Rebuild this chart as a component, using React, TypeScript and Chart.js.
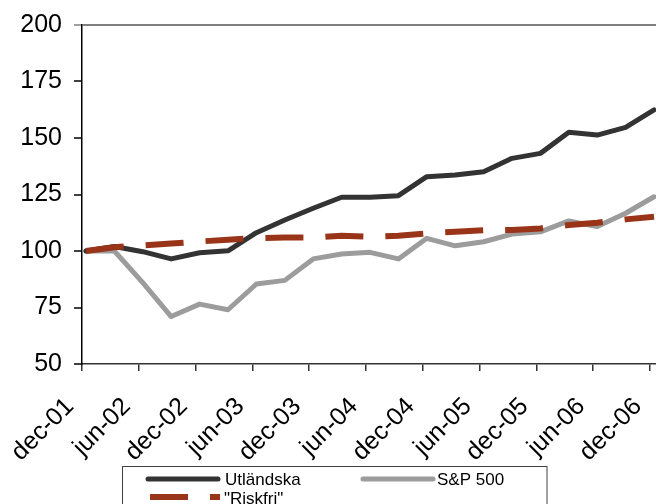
import React, { useEffect, useRef } from "react";
import { Chart, registerables } from "chart.js";

Chart.register(...registerables);

// Quarterly observations (dec-01 .. dec-06)
const quarters = [
  "dec-01", "mar-02", "jun-02", "sep-02", "dec-02", "mar-03", "jun-03",
  "sep-03", "dec-03", "mar-04", "jun-04", "sep-04", "dec-04", "mar-05",
  "jun-05", "sep-05", "dec-05", "mar-06", "jun-06", "sep-06", "dec-06",
];
const tickLabels = [
  "dec-01", "jun-02", "dec-02", "jun-03", "dec-03", "jun-04",
  "dec-04", "jun-05", "dec-05", "jun-06", "dec-06",
];
const utlandska = [
  100, 102, 99.7, 96.5, 99.2, 100.1, 108.1, 113.7, 118.9, 123.8, 123.8,
  124.5, 132.9, 133.6, 135.1, 141, 143.2, 152.5, 151.3, 154.7, 162.4,
];
const sp500 = [
  100, 100, 86, 71, 76.5, 74, 85.4, 87, 96.5, 98.7, 99.4,
  96.5, 105.6, 102.3, 104.1, 107.5, 108.5, 113.3, 110.8, 116.7, 124,
];
const riskfri = [
  100, 101.7, 102.5, 103.3, 104.2, 105, 105.7, 106, 106, 106.8, 106.3,
  106.8, 107.8, 108.5, 109.2, 109.3, 110, 111.5, 112.5, 114, 115.2,
];
const seriesNames = ["Utländska", "S&P 500", "\"Riskfri\""];
const seriesColors = ["#333333", "#9c9c9c", "#9a3418"];
const yTicks = [50, 75, 100, 125, 150, 175, 200];

const FONT = "'Liberation Sans', Arial, sans-serif";
const X_SHIFT = 0.14; // observations sit slightly right of the month tick

const boxLegend = {
  id: "boxLegend",
  afterDraw(chart: any) {
    const ctx = chart.ctx as CanvasRenderingContext2D;
    ctx.save();
    ctx.strokeStyle = "#404040";
    ctx.lineWidth = 1;
    ctx.strokeRect(122.5, 466.5, 424.5, 60);
    const items = [
      { i: 0, x: 148, y: 479, tx: 225, ty: 485 },
      { i: 1, x: 363, y: 479, tx: 437, ty: 485 },
      { i: 2, x: 150, y: 497, tx: 224, ty: 504 },
    ];
    ctx.font = `17px ${FONT}`;
    ctx.textBaseline = "alphabetic";
    ctx.textAlign = "left";
    for (const it of items) {
      const ds = chart.data.datasets[it.i];
      ctx.beginPath();
      ctx.strokeStyle = ds.borderColor;
      ctx.lineWidth = ds.borderWidth;
      ctx.lineCap = ds.borderDash && ds.borderDash.length ? "butt" : "round";
      ctx.setLineDash(ds.borderDash || []);
      ctx.moveTo(it.x, it.y);
      ctx.lineTo(it.x + 70, it.y);
      ctx.stroke();
      ctx.setLineDash([]);
      ctx.fillStyle = "#000";
      ctx.fillText(ds.label, it.tx, it.ty);
    }
    ctx.restore();
  },
};

export default function App() {
  const ref = useRef<HTMLCanvasElement | null>(null);

  useEffect(() => {
    if (!ref.current) return;
    const mk = (vals: number[]) => vals.map((v, i) => ({ x: i, y: v }));
    const chart = new Chart(ref.current, {
      type: "line",
      data: {
        datasets: [
          {
            label: seriesNames[0],
            data: mk(utlandska),
            borderColor: seriesColors[0],
            borderWidth: 5,
            borderCapStyle: "round",
            borderJoinStyle: "round",
            pointRadius: 0,
            tension: 0,
            order: 1,
          },
          {
            label: seriesNames[1],
            data: mk(sp500),
            borderColor: seriesColors[1],
            borderWidth: 5,
            borderCapStyle: "round",
            borderJoinStyle: "round",
            pointRadius: 0,
            tension: 0,
            order: 2,
          },
          {
            label: seriesNames[2],
            data: mk(riskfri),
            borderColor: seriesColors[2],
            borderWidth: 6,
            borderDash: [38, 22],
            borderCapStyle: "butt",
            pointRadius: 0,
            tension: 0,
            order: 0,
          },
        ],
      },
      options: {
        animation: false,
        responsive: false,
        events: [],
        layout: { padding: { top: 25, left: 0, right: 0, bottom: 0 } },
        plugins: {
          legend: { display: false },
          tooltip: { enabled: false },
        },
        scales: {
          x: {
            type: "linear",
            min: -X_SHIFT,
            max: quarters.length - 1 + 0.07,
            afterBuildTicks: (scale: any) => {
              scale.ticks = tickLabels.map((l) => ({
                value: quarters.indexOf(l) - X_SHIFT,
              }));
            },
            afterFit: (scale: any) => {
              scale.height = 140;
              scale.paddingLeft = 0;
              scale.paddingRight = 0;
            },
            ticks: {
              autoSkip: false,
              minRotation: 45,
              maxRotation: 45,
              padding: 21,
              labelOffset: -12,
              color: "#000",
              font: { family: FONT, size: 25 },
              callback: (_v: any, i: number) => tickLabels[i],
            },
            grid: {
              drawOnChartArea: false,
              drawTicks: true,
              tickLength: 7,
              color: "#333",
              lineWidth: 1.5,
            },
            border: { color: "#333", width: 1.5 },
          },
          y: {
            type: "linear",
            min: yTicks[0],
            max: yTicks[yTicks.length - 1],
            afterBuildTicks: (scale: any) => {
              scale.ticks = yTicks.map((v) => ({ value: v }));
            },
            afterFit: (scale: any) => {
              scale.width = 82;
              scale.paddingTop = 0;
              scale.paddingBottom = 0;
            },
            ticks: {
              padding: 12,
              color: "#000",
              font: { family: FONT, size: 25 },
            },
            grid: {
              drawOnChartArea: true,
              drawTicks: true,
              tickLength: 8,
              lineWidth: 2,
              tickWidth: 1.5,
              color: (c: any) =>
                c.tick && c.tick.value === 200 ? "#808080" : "rgba(0,0,0,0)",
              tickColor: (c: any) =>
                c.tick && c.tick.value === 200 ? "#808080" : "#000",
            },
            border: { color: "#000", width: 1.5 },
          },
        },
      },
      plugins: [boxLegend],
    } as any);
    return () => chart.destroy();
  }, []);

  return (
    <div style={{ position: "absolute", left: 0, top: 0, width: 656, height: 504, background: "#fff" }}>
      <canvas ref={ref} width={656} height={504} style={{ display: "block" }} />
    </div>
  );
}
